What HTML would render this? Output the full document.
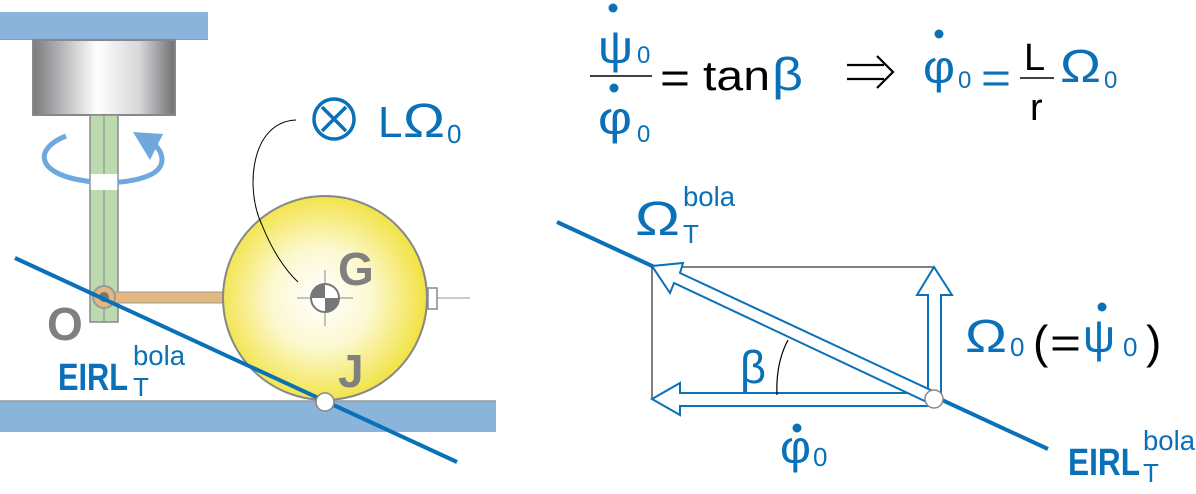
<!DOCTYPE html>
<html><head><style>
html,body{margin:0;padding:0;background:#fff;}
svg{display:block;}
text{font-family:"Liberation Sans",sans-serif;}
</style></head><body>
<svg width="1196" height="494" viewBox="0 0 1196 494" xmlns="http://www.w3.org/2000/svg">
<defs>
<linearGradient id="cyl" x1="0" x2="1" y1="0" y2="0">
<stop offset="0" stop-color="#7a7b7d"/><stop offset="0.45" stop-color="#ffffff"/><stop offset="0.75" stop-color="#d6d7d8"/><stop offset="1" stop-color="#6f7072"/>
</linearGradient>
<radialGradient id="ball" cx="0.48" cy="0.5" r="0.55">
<stop offset="0" stop-color="#ffffff"/><stop offset="0.45" stop-color="#fcf8d0"/><stop offset="1" stop-color="#f0e030"/>
</radialGradient>
</defs>
<rect x="0" y="12" width="208" height="28" fill="#8ab4d9"/>
<line x1="0" y1="39.5" x2="208" y2="39.5" stroke="#999" stroke-width="1"/>
<rect x="33" y="40" width="142" height="75" fill="url(#cyl)" stroke="#888" stroke-width="2"/>
<rect x="90" y="115" width="28" height="207" fill="#bcdaad" stroke="#8a8a8a" stroke-width="1.5"/>
<line x1="104" y1="115" x2="104" y2="322" stroke="#8a8a8a" stroke-width="1"/>
<path d="M66 136 C 35 148, 35 172, 80 180 C 100 184, 130 184, 150 175 C 165 168, 165 155, 155 145" fill="none" stroke="#6fa8dc" stroke-width="5"/>
<rect x="90.75" y="174" width="26.5" height="16" fill="#fff"/>
<polygon points="133,132 163,134 150,160" fill="#6fa8dc"/>
<rect x="0" y="401" width="496" height="31" fill="#8ab4d9"/>
<line x1="0" y1="401" x2="496" y2="401" stroke="#999" stroke-width="1.5"/>
<rect x="104" y="292" width="122" height="11" fill="#e2b87e" stroke="#999" stroke-width="1"/>
<circle cx="325" cy="298" r="102" fill="url(#ball)" stroke="#888" stroke-width="2"/>
<rect x="428" y="288" width="9" height="21" fill="#fff" stroke="#888" stroke-width="1.5"/>
<line x1="437" y1="298" x2="470" y2="298" stroke="#999" stroke-width="1"/>
<line x1="297" y1="298" x2="353" y2="298" stroke="#888" stroke-width="1"/>
<line x1="325" y1="270" x2="325" y2="326" stroke="#888" stroke-width="1"/>
<circle cx="325" cy="298" r="14" fill="#fff" stroke="#777" stroke-width="2"/>
<path d="M325 298 L325 284 A14 14 0 0 0 311 298 Z" fill="#777"/>
<path d="M325 298 L339 298 A14 14 0 0 1 325 312 Z" fill="#777"/>
<circle cx="104" cy="297" r="11" fill="#e2b87e" stroke="#999" stroke-width="2"/>
<circle cx="104" cy="297" r="5" fill="#777"/>
<line x1="15" y1="258" x2="457" y2="462" stroke="#0a70b8" stroke-width="4"/>
<circle cx="325" cy="402" r="9" fill="#fff" stroke="#888" stroke-width="1.5"/>
<path d="M296 120 C 250 122, 245 190, 262 225 C 272 250, 285 270, 298 282" fill="none" stroke="#000" stroke-width="1"/>
<text x="338" y="285" font-size="46" font-weight="bold" fill="#808080">G</text>
<text x="47" y="340" font-size="46" font-weight="bold" fill="#808080">O</text>
<text x="338" y="387" font-size="46" font-weight="bold" fill="#808080">J</text>
<text x="58" y="390" font-size="38" font-weight="bold" fill="#0a70b8" textLength="70" lengthAdjust="spacingAndGlyphs">EIRL</text>
<text x="133" y="396" font-size="26" fill="#0a70b8">T</text>
<text x="133" y="365" font-size="28" fill="#0a70b8" textLength="52" lengthAdjust="spacingAndGlyphs">bola</text>
<circle cx="334" cy="119" r="20" fill="none" stroke="#0a70b8" stroke-width="3.5"/>
<line x1="322" y1="107" x2="346" y2="131" stroke="#0a70b8" stroke-width="3.5"/>
<line x1="346" y1="107" x2="322" y2="131" stroke="#0a70b8" stroke-width="3.5"/>
<text x="378" y="137" font-size="44" fill="#0a70b8">L</text>
<text x="403" y="137" font-size="48" fill="#0a70b8" textLength="42" lengthAdjust="spacingAndGlyphs">Ω</text>
<text x="447" y="143" font-size="26" fill="#0a70b8">0</text>

<!-- equation -->
<circle cx="613" cy="8" r="4.5" fill="#0a70b8"/>
<text x="598" y="63" font-size="46" fill="#0a70b8" textLength="35" lengthAdjust="spacingAndGlyphs">ψ</text>
<text x="637" y="63" font-size="24" fill="#0a70b8">0</text>
<line x1="590" y1="76" x2="652" y2="76" stroke="#000" stroke-width="1.5"/>
<circle cx="614" cy="88" r="4.5" fill="#0a70b8"/>
<text x="598" y="134" font-size="46" fill="#0a70b8" textLength="34" lengthAdjust="spacingAndGlyphs">φ</text>
<text x="637" y="142" font-size="24" fill="#0a70b8">0</text>
<text x="660" y="93" font-size="44" fill="#000" textLength="30" lengthAdjust="spacingAndGlyphs">=</text>
<text x="703" y="90" font-size="42" fill="#000" textLength="67" lengthAdjust="spacingAndGlyphs">tan</text>
<text x="772" y="90" font-size="46" fill="#0a70b8" textLength="31" lengthAdjust="spacingAndGlyphs">β</text>
<!-- implies arrow -->
<line x1="847" y1="65" x2="884" y2="65" stroke="#000" stroke-width="2.2"/>
<line x1="847" y1="79" x2="884" y2="79" stroke="#000" stroke-width="2.2"/>
<polyline points="877,56 893,72 877,88" fill="none" stroke="#000" stroke-width="2.2"/>
<circle cx="939" cy="34" r="4.5" fill="#0a70b8"/>
<text x="923" y="83" font-size="46" fill="#0a70b8" textLength="32" lengthAdjust="spacingAndGlyphs">φ</text>
<text x="958" y="88" font-size="24" fill="#0a70b8">0</text>
<text x="981" y="93" font-size="44" fill="#0a70b8" textLength="30" lengthAdjust="spacingAndGlyphs">=</text>
<text x="1024" y="70" font-size="38" fill="#000">L</text>
<line x1="1020" y1="78" x2="1054" y2="78" stroke="#000" stroke-width="1.5"/>
<text x="1030" y="120" font-size="38" fill="#000">r</text>
<text x="1060" y="82" font-size="46" fill="#0a70b8" textLength="41" lengthAdjust="spacingAndGlyphs">Ω</text>
<text x="1104" y="88" font-size="24" fill="#0a70b8">0</text>

<!-- right diagram -->
<line x1="557" y1="222" x2="1048" y2="449" stroke="#0a70b8" stroke-width="4"/>
<polyline points="934,267 652,267 652,399" fill="none" stroke="#000" stroke-width="1"/>
<polygon points="928,399 928,295 917,295 934,267 952,295 941,295 941,399" fill="#fff" stroke="#0a70b8" stroke-width="2"/>
<polygon points="934,393 680,393 680,383 652,399 680,415 680,406 934,406" fill="#fff" stroke="#0a70b8" stroke-width="2"/>
<polygon points="931,404 674,283 670,293 652,266 683,263 680,273 937,393" fill="#fff" stroke="#0a70b8" stroke-width="2"/>
<path d="M777 395 C 776 372, 780 355, 788 340" fill="none" stroke="#000" stroke-width="1.2"/>
<circle cx="934" cy="399" r="9" fill="#fff" stroke="#888" stroke-width="1.5"/>
<text x="740" y="383" font-size="46" fill="#0a70b8" textLength="26" lengthAdjust="spacingAndGlyphs">β</text>
<text x="635" y="235" font-size="48" fill="#0a70b8" textLength="45" lengthAdjust="spacingAndGlyphs">Ω</text>
<text x="683" y="243" font-size="26" fill="#0a70b8">T</text>
<text x="683" y="206" font-size="28" fill="#0a70b8" textLength="52" lengthAdjust="spacingAndGlyphs">bola</text>
<text x="965" y="352" font-size="46" fill="#0a70b8" textLength="42" lengthAdjust="spacingAndGlyphs">Ω</text>
<text x="1010" y="356" font-size="26" fill="#0a70b8">0</text>
<text x="1033" y="358" font-size="46" fill="#000">(</text>
<text x="1050" y="358" font-size="44" fill="#000" textLength="31" lengthAdjust="spacingAndGlyphs">=</text>
<circle cx="1102" cy="307" r="4.5" fill="#0a70b8"/>
<text x="1083" y="352" font-size="46" fill="#0a70b8" textLength="32" lengthAdjust="spacingAndGlyphs">ψ</text>
<text x="1123" y="356" font-size="26" fill="#0a70b8">0</text>
<text x="1146" y="358" font-size="46" fill="#000">)</text>
<circle cx="797" cy="428" r="4.5" fill="#0a70b8"/>
<text x="780" y="463" font-size="46" fill="#0a70b8" textLength="31" lengthAdjust="spacingAndGlyphs">φ</text>
<text x="813" y="466" font-size="26" fill="#0a70b8">0</text>
<text x="1068" y="475" font-size="38" font-weight="bold" fill="#0a70b8" textLength="72" lengthAdjust="spacingAndGlyphs">EIRL</text>
<text x="1143" y="482" font-size="26" fill="#0a70b8">T</text>
<text x="1143" y="450" font-size="28" fill="#0a70b8" textLength="52" lengthAdjust="spacingAndGlyphs">bola</text>
</svg>
</body></html>
